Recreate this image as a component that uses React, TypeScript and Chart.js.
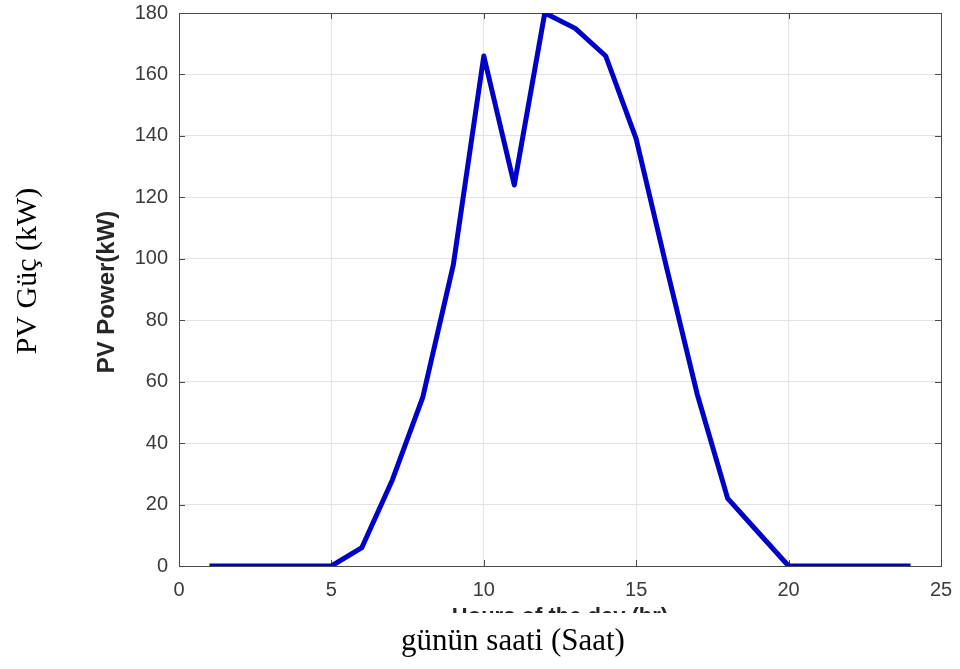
import React, { useEffect, useRef } from "react";
import { Chart, registerables } from "chart.js";

Chart.register(...registerables);

const hours = [1, 2, 3, 4, 5, 6, 7, 8, 9, 10, 11, 12, 13, 14, 15, 16, 17, 18, 19, 20, 21, 22, 23, 24];
const pvPower = [0, 0, 0, 0, 0, 6, 28, 55, 98, 166, 124, 180, 175, 166, 139, 97, 56, 22, 11, 0, 0, 0, 0, 0];
const xTicks = [0, 5, 10, 15, 20, 25];
const yTicks = [0, 20, 40, 60, 80, 100, 120, 140, 160, 180];
const innerYTitle = "PV Power(kW)";
const innerXTitle = "Hours of the day (hr)";
const outerYTitle = "PV Güç (kW)";
const outerXTitle = "günün saati (Saat)";

const framePlugin = {
  id: "frame",
  beforeDatasetsDraw(chart: any) {
    const { ctx, chartArea: a, scales } = chart;
    ctx.save();
    ctx.strokeStyle = "#4a4a4a";
    ctx.lineWidth = 1;
    ctx.beginPath();
    for (const v of xTicks) {
      const x = Math.round(scales.x.getPixelForValue(v)) + 0.5;
      ctx.moveTo(x, a.bottom);
      ctx.lineTo(x, a.bottom - 6);
      ctx.moveTo(x, a.top);
      ctx.lineTo(x, a.top + 6);
    }
    for (const v of yTicks) {
      const y = Math.round(scales.y.getPixelForValue(v)) + 0.5;
      ctx.moveTo(a.left, y);
      ctx.lineTo(a.left + 6, y);
      ctx.moveTo(a.right, y);
      ctx.lineTo(a.right - 6, y);
    }
    ctx.stroke();
    ctx.strokeRect(Math.round(a.left) + 0.5, Math.round(a.top) + 0.5, Math.round(a.right - a.left), Math.round(a.bottom - a.top));
    ctx.restore();
  },
  afterDraw(chart: any) {
    const { ctx, chartArea: a } = chart;
    ctx.save();
    ctx.fillStyle = "#262626";
    ctx.font = "bold 24px 'Liberation Sans', Arial, sans-serif";
    ctx.textAlign = "center";
    ctx.textBaseline = "alphabetic";
    ctx.save();
    ctx.translate(114, 292);
    ctx.rotate(-Math.PI / 2);
    ctx.fillText(innerYTitle, 0, 0);
    ctx.restore();
    ctx.save();
    ctx.beginPath();
    ctx.rect(0, 600, 960, 13);
    ctx.clip();
    ctx.font = "bold 22px 'Liberation Sans', Arial, sans-serif";
    ctx.fillText(innerXTitle, (a.left + a.right) / 2, 623);
    ctx.restore();
    ctx.fillStyle = "#000000";
    ctx.font = "30px 'Liberation Serif', 'Times New Roman', serif";
    ctx.save();
    ctx.translate(36, 271);
    ctx.rotate(-Math.PI / 2);
    ctx.fillText(outerYTitle, 0, 0);
    ctx.restore();
    ctx.font = "31px 'Liberation Serif', 'Times New Roman', serif";
    ctx.fillText(outerXTitle, 513, 650);
    ctx.restore();
  },
};

const zeroPad = (s: any) => {
  s.paddingTop = 0;
  s.paddingBottom = 0;
  s.paddingLeft = 0;
  s.paddingRight = 0;
};

export default function App() {
  const ref = useRef<HTMLCanvasElement | null>(null);
  useEffect(() => {
    if (!ref.current) return;
    const tickFont = { family: "'Liberation Sans', Arial, sans-serif", size: 20 };
    const chart = new Chart(ref.current, {
      type: "line",
      data: {
        labels: hours,
        datasets: [
          {
            data: hours.map((h, i) => ({ x: h, y: pvPower[i] })),
            borderColor: "#0000c8",
            borderWidth: 5,
            pointRadius: 0,
            tension: 0,
            fill: false,
            borderJoinStyle: "round",
            borderCapStyle: "butt",
          },
        ],
      },
      options: {
        responsive: false,
        animation: false,
        layout: { padding: { left: 0, top: 13, right: 19, bottom: 0 } },
        plugins: { legend: { display: false }, tooltip: { enabled: false } },
        scales: {
          x: {
            type: "linear",
            min: 0,
            max: 25,
            afterBuildTicks: (s: any) => {
              s.ticks = xTicks.map((v) => ({ value: v }));
            },
            afterFit: (s: any) => {
              s.height = 103;
              zeroPad(s);
            },
            grid: { color: "#e3e3e3", drawTicks: false, lineWidth: 1 },
            border: { display: false },
            ticks: { font: tickFont, color: "#3a3a3a", padding: 12, maxRotation: 0 },
          },
          y: {
            type: "linear",
            min: 0,
            max: 180,
            afterBuildTicks: (s: any) => {
              s.ticks = yTicks.map((v) => ({ value: v }));
            },
            afterFit: (s: any) => {
              s.width = 179;
              zeroPad(s);
            },
            grid: { color: "#e3e3e3", drawTicks: false, lineWidth: 1 },
            border: { display: false },
            ticks: { font: tickFont, color: "#3a3a3a", padding: 11 },
          },
        },
      },
      plugins: [framePlugin],
    } as any);
    return () => chart.destroy();
  }, []);
  return (
    <div style={{ position: "absolute", left: 0, top: 0, width: 960, height: 669, background: "#fff" }}>
      <canvas ref={ref} width={960} height={669} style={{ display: "block", width: 960, height: 669 }} />
    </div>
  );
}
